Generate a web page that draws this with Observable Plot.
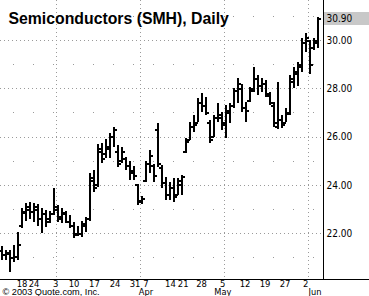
<!DOCTYPE html>
<html><head><meta charset="utf-8">
<script src="https://cdn.jsdelivr.net/npm/d3@7"></script>
<script src="https://cdn.jsdelivr.net/npm/@observablehq/plot@0.6"></script>
<style>body{margin:0;background:#fff} svg{display:block}</style>
</head><body><div id="chart"></div>
<script>
const dates = [
"2003-02-10","2003-02-11","2003-02-12","2003-02-13","2003-02-14","2003-02-18","2003-02-19","2003-02-20","2003-02-21","2003-02-24","2003-02-25","2003-02-26","2003-02-27","2003-02-28",
"2003-03-03","2003-03-04","2003-03-05","2003-03-06","2003-03-07","2003-03-10","2003-03-11","2003-03-12","2003-03-13","2003-03-14","2003-03-17","2003-03-18","2003-03-19","2003-03-20","2003-03-21","2003-03-24","2003-03-25","2003-03-26","2003-03-27","2003-03-28","2003-03-31",
"2003-04-01","2003-04-02","2003-04-03","2003-04-04","2003-04-07","2003-04-08","2003-04-09","2003-04-10","2003-04-11","2003-04-14","2003-04-15","2003-04-16","2003-04-17","2003-04-21","2003-04-22","2003-04-23","2003-04-24","2003-04-25","2003-04-28","2003-04-29","2003-04-30",
"2003-05-01","2003-05-02","2003-05-05","2003-05-06","2003-05-07","2003-05-08","2003-05-09","2003-05-12","2003-05-13","2003-05-14","2003-05-15","2003-05-16","2003-05-19","2003-05-20","2003-05-21","2003-05-22","2003-05-23","2003-05-27","2003-05-28","2003-05-29","2003-05-30",
"2003-06-02","2003-06-03","2003-06-04"];
const opens = [21.30,21.10,21.15,21.00,21.05,22.30,22.90,23.00,22.90,23.00,22.60,22.80,22.60,22.80,
23.00,22.70,22.80,22.50,22.30,22.00,22.00,22.30,22.60,24.20,24.00,25.40,25.30,25.50,26.00,25.40,25.00,25.10,24.80,24.60,24.00,
23.35,24.20,24.90,24.80,26.30,24.70,24.10,23.60,23.90,23.60,24.00,25.40,25.90,26.40,26.60,27.40,27.30,26.60,26.00,26.80,26.80,
26.50,27.00,27.30,27.90,28.00,27.20,27.50,28.00,28.40,28.10,28.20,27.70,27.30,26.40,26.70,26.60,26.95,28.30,28.60,28.90,29.90,
30.00,29.70,29.90];
const highs = [21.45,21.30,21.30,21.50,22.05,23.05,23.25,23.30,23.25,23.20,23.05,22.95,22.90,23.85,
23.17,23.05,22.90,22.75,22.45,22.30,22.50,22.65,24.50,24.60,25.70,25.75,25.90,26.15,26.40,25.65,25.57,25.15,25.00,24.80,24.05,
23.55,25.00,25.45,24.85,26.56,24.82,24.33,24.10,24.30,24.30,24.40,25.95,26.60,26.90,27.60,27.80,27.64,26.70,26.90,27.40,27.00,
27.30,27.40,28.00,28.43,28.20,27.43,28.05,28.88,28.55,28.43,28.35,27.85,27.43,28.26,26.90,27.20,28.55,28.88,29.10,30.10,30.30,
30.00,30.10,30.97];
const lows = [20.90,20.90,20.40,20.80,20.90,22.20,22.50,22.60,22.45,22.30,22.00,22.25,22.40,22.75,
22.45,22.40,22.40,22.20,21.80,21.90,21.85,22.05,22.50,23.70,23.90,24.90,25.10,25.10,25.57,24.74,24.90,24.60,24.20,24.20,23.17,
23.20,24.10,24.50,24.10,24.74,23.87,23.38,23.38,23.30,23.60,23.60,25.30,25.86,26.20,26.60,27.00,26.90,25.73,26.00,26.60,26.27,
25.94,26.56,27.20,27.40,27.00,26.60,27.43,27.85,27.72,27.85,27.64,27.30,26.40,26.30,26.35,26.60,26.90,28.00,28.10,28.67,29.50,
28.60,29.60,29.67];
const closes = [21.10,21.20,21.00,21.05,21.55,22.85,23.10,22.90,23.10,22.60,22.80,22.50,22.80,23.10,
22.60,22.85,22.50,22.30,21.95,22.00,22.40,22.60,24.30,23.90,25.50,25.10,25.60,26.00,26.30,24.90,25.40,24.80,24.50,24.40,23.30,
23.45,24.90,25.20,24.40,24.90,24.10,23.60,23.90,23.50,24.20,24.35,25.80,26.40,26.50,27.40,27.30,27.00,25.90,26.80,26.90,26.60,
27.10,27.30,27.90,28.20,27.20,27.10,27.90,28.40,28.10,28.20,27.80,27.40,26.60,26.70,26.50,27.00,28.40,28.70,29.00,29.90,30.10,
29.00,30.00,30.90];

const dayTickLabels = ["18","24","3","10","17","24","31","7","14","21","28","5","12","19","27","2"];
const dayTickAt = [5.0,8.0,13.4,18,23.1,28.25,33.25,36,42.1,45.3,49.9,55.2,60.75,65.75,70.75,75.9];
const monthLabels = ["Apr","May","Jun"];
const monthLabelAt = [36,55.2,78.25];
const yMajor = [22,24,26,28,30];
const yMinor = [21,23,25,27,29,31];
const title = "Semiconductors (SMH), Daily";
const credit = "\u00A9 2003 Quote.com, Inc.";

const bars = dates.map((d, i) => ({i, date: d, open: opens[i], high: highs[i], low: lows[i], close: closes[i]}));
const monthStarts = bars.filter((b, i) => i > 0 && b.date.slice(5, 7) !== bars[i - 1].date.slice(5, 7)).map(b => b.i - 0.5);
const last = bars[bars.length - 1];

const xDomain = [-0.375, 80.375];
const xOuter = 91.875;
const yDomain = [20.1, 31.66];
const grid = "#9a9a9a";
const narrow = "'Liberation Sans Narrow', 'Arial Narrow', 'DejaVu Sans Condensed', 'Liberation Sans', sans-serif";

const chart = Plot.plot({
  width: 369, height: 296,
  marginLeft: 0, marginRight: 46, marginTop: 0, marginBottom: 17,
  x: {domain: xDomain, axis: null},
  y: {domain: yDomain, axis: null},
  style: {fontFamily: "'Liberation Sans', Arial, sans-serif", fontSize: "10px", background: "#fff", color: "#000"},
  marks: [
    Plot.ruleY(yMajor, {stroke: grid, strokeDasharray: "1,3"}),
    Plot.ruleY(yMinor, {stroke: grid, strokeDasharray: "1,19", strokeDashoffset: -13}),
    Plot.ruleX(monthStarts, {stroke: grid, strokeDasharray: "1,3"}),
    Plot.rect([last.close], {x1: xDomain[1], x2: xOuter, y1: d => d - 0.28, y2: d => d + 0.27, fill: "#c8c8c8"}),
    Plot.ruleX(bars, {x: "i", y1: "low", y2: "high", stroke: "#000", strokeWidth: 2}),
    Plot.ruleY(bars, {y: "open", x1: d => d.i - 0.75, x2: "i", stroke: "#000", strokeWidth: 2}),
    Plot.ruleY(bars, {y: "close", x1: "i", x2: d => d.i + 0.75, stroke: "#000", strokeWidth: 2}),
    Plot.ruleX([xDomain[1]], {stroke: "#000"}),
    Plot.ruleY([yDomain[0]], {x1: xDomain[0], x2: xOuter, stroke: "#000"}),
    Plot.axisY(yMajor, {anchor: "right", tickSize: 0, tickPadding: 3, tickFormat: d => d.toFixed(2), fontSize: 10, fontFamily: narrow}),
    Plot.text([last.close], {x: xDomain[1], y: d => d, text: d => d.toFixed(2), dx: 3, textAnchor: "start", fontSize: 10, fontFamily: narrow}),
    Plot.text(dayTickLabels, {x: (d, i) => dayTickAt[i], text: d => d, frameAnchor: "bottom", dy: 0.5, lineAnchor: "top", fontSize: 9.4, fontFamily: narrow}),
    Plot.text(monthLabels, {x: (d, i) => monthLabelAt[i], text: d => d, frameAnchor: "bottom", dy: 9, lineAnchor: "top", fontSize: 9.2, fontFamily: narrow}),
    Plot.text([credit], {frameAnchor: "bottom-left", dx: 2, dy: 9, lineAnchor: "top", textAnchor: "start", fontSize: 9.2}),
    Plot.text([title], {frameAnchor: "top-left", dx: 8, dy: 12, lineAnchor: "top", textAnchor: "start", fontSize: 15.8, fontWeight: "bold"})
  ]
});
chart.setAttribute("shape-rendering", "crispEdges");
document.getElementById("chart").append(chart);
</script>
</body></html>
